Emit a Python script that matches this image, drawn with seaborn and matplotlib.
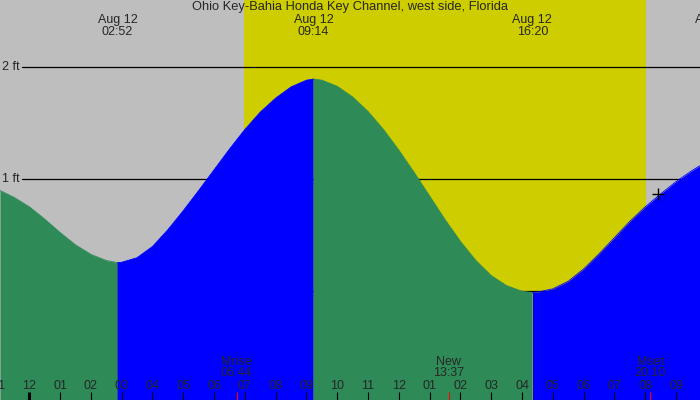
import pandas as pd
import matplotlib
matplotlib.use('Agg')
import matplotlib.pyplot as plt
import matplotlib.transforms as mtransforms
import seaborn as sns

# 站点与数据（时间单位：8月12日0点起的小时数，高度单位：ft）
station = 'Ohio Key-Bahia Honda Key Channel, west side, Florida'

tide_t = [-0.95, -0.5, 0.0, 0.5, 1.0, 1.5, 2.0, 2.5, 2.867,
          2.867, 3.0, 3.5, 4.0, 4.5, 5.0, 5.5, 6.0, 6.5, 7.0, 7.5, 8.0, 8.5, 9.0, 9.233,
          9.233, 9.5, 10.0, 10.5, 11.0, 11.5, 12.0, 12.5, 13.0, 13.5, 14.0, 14.5, 15.0, 15.5, 16.0, 16.333,
          16.333, 16.5, 17.0, 17.5, 18.0, 18.5, 19.0, 19.5, 20.0, 20.5, 21.0, 21.5, 22.0]
tide_ft = [0.90, 0.84, 0.755, 0.645, 0.525, 0.415, 0.33, 0.275, 0.256,
           0.256, 0.259, 0.30, 0.40, 0.55, 0.72, 0.90, 1.085, 1.27, 1.445, 1.60, 1.725, 1.825, 1.885, 1.895,
           1.895, 1.885, 1.83, 1.735, 1.605, 1.445, 1.26, 1.06, 0.85, 0.64, 0.445, 0.275, 0.14, 0.05, 0.0, -0.01,
           -0.01, -0.007, 0.022, 0.09, 0.20, 0.335, 0.48, 0.625, 0.755, 0.87, 0.98, 1.075, 1.16]
tide_seg = [0] * 9 + [1] * 15 + [2] * 16 + [3] * 13
seg_phase = ['falling', 'rising', 'falling', 'rising']

# 高低潮时刻标签
event_dates = ['Aug 12', 'Aug 12', 'Aug 12', 'Aug 12']
event_times = ['02:52', '09:14', '16:20', '22:16']

# 月相事件
moon_names = ['Mrise', 'New', 'Mset']
moon_times = ['06:44', '13:37', '20:10']

# 日出日落
sunrise = '06:58'
sunset = '20:01'

# 小时刻度
hour_ticks = list(range(-1, 22))
hour_labels = ['11', '12', '01', '02', '03', '04', '05', '06', '07', '08', '09', '10', '11',
               '12', '01', '02', '03', '04', '05', '06', '07', '08', '09']

ft_levels = [0, 1, 2]
ft_labels = ['0 ft', '1 ft', '2 ft']

marker_t = 20.41
marker_ft = 0.866


def to_hours(s):
    h, m = s.split(':')
    return int(h) + int(m) / 60


df = pd.DataFrame({'t': tide_t, 'ft': tide_ft, 'seg': tide_seg})
df['phase'] = [seg_phase[s] for s in df['seg']]

sns.set_style('white')
plt.rcParams['font.family'] = ['Liberation Sans', 'DejaVu Sans']
plt.rcParams['font.size'] = 9

colors = {'rising': '#0000ff', 'falling': '#2e8b57'}
gray = '#bebebe'
day = '#cdcd00'

fig = plt.figure(figsize=(7, 4), dpi=100)
ax = fig.add_axes([0, 0, 1, 1])
ax.set_xlim(-0.951, 21.776)
ax.set_ylim(-0.9705, 2.601)
ax.add_patch(plt.Rectangle((0, 0), 1, 1, transform=ax.transAxes, color=gray, zorder=0))

# 白天
ax.axvspan(to_hours(sunrise), to_hours(sunset), color=day, lw=0, zorder=1)

# 水平参考线
x_line0 = -0.951 + 22 / 30.8
for lv, lb in zip(ft_levels, ft_labels):
    ax.plot([x_line0, 22], [lv, lv], color='black', lw=0.9, zorder=2)
    ax.text(-0.951 + 2 / 30.8, lv, lb, ha='left', va='center', fontsize=9, zorder=2)

# 潮汐曲线
for s, g in df.groupby('seg'):
    ax.fill_between(g['t'], g['ft'], -2, color=colors[seg_phase[s]], lw=0, zorder=3)
sns.lineplot(data=df, x='t', y='ft', hue='phase', units='seg', estimator=None,
             palette=colors, legend=False, lw=0.6, ax=ax, zorder=3)
ax.axis('off')

ax.plot([marker_t], [marker_ft], marker='+', color='black', ms=8, mew=1.0, zorder=5)

trans = mtransforms.blended_transform_factory(ax.transData, ax.transAxes)

# 标题和高低潮标签
ax.text(0.5, 0.982, station, transform=ax.transAxes, ha='center', va='center', fontsize=9.3, zorder=6)
for d, tm in zip(event_dates, event_times):
    x = to_hours(tm)
    ax.text(x, 0.951, d, transform=trans, ha='center', va='center', fontsize=9, zorder=6)
    ax.text(x, 0.921, tm, transform=trans, ha='center', va='center', fontsize=9, zorder=6)

# 小时刻度
for h, lb in zip(hour_ticks, hour_labels):
    lw = 2.2 if h == 0 else 0.8
    ax.plot([h, h], [0, 0.021], transform=trans, color='black', lw=lw,
            solid_capstyle='butt', zorder=6)
    ax.text(h, 0.036, lb, transform=trans, ha='center', va='center', fontsize=9, zorder=6)

# 月相
for nm, tm in zip(moon_names, moon_times):
    x = to_hours(tm)
    ax.plot([x, x], [0, 0.021], transform=trans, color='red', lw=0.8,
            solid_capstyle='butt', zorder=6)
    ax.text(x, 0.096, nm, transform=trans, ha='center', va='center', fontsize=9, zorder=6)
    ax.text(x, 0.067, tm, transform=trans, ha='center', va='center', fontsize=9, zorder=6)

fig.savefig('out.png', dpi=100)
